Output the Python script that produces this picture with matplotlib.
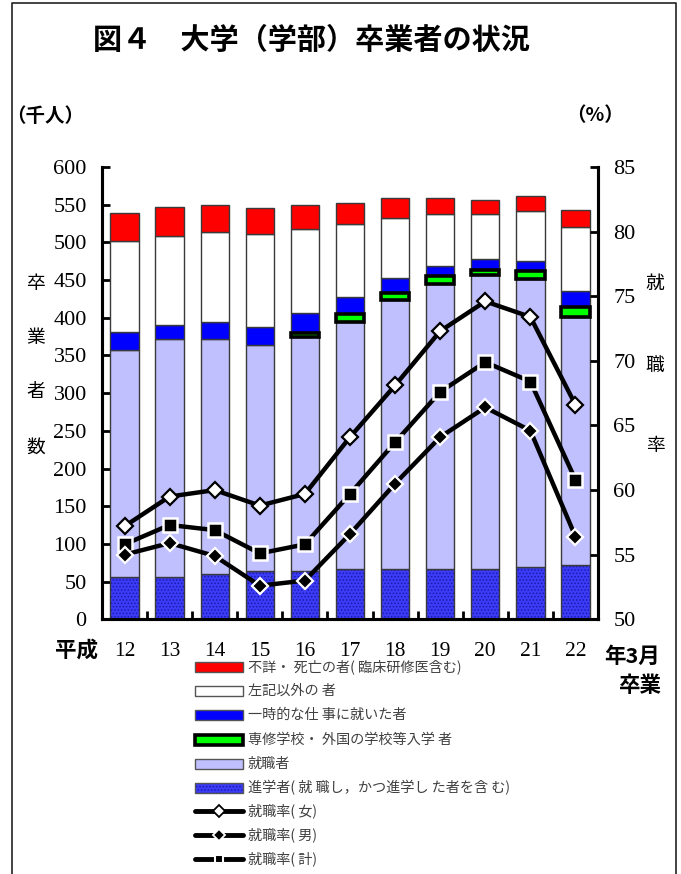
import matplotlib
matplotlib.use("Agg")
import matplotlib.pyplot as plt
import numpy as np
from matplotlib.patches import Rectangle
from matplotlib.lines import Line2D

# ---- data (thousand persons / percent) ----
years = ["12", "13", "14", "15", "16", "17", "18", "19", "20", "21", "22"]
advance = [56.5, 56.5, 59.5, 63.5, 63.5, 66.5, 66.5, 66.5, 66.5, 69.5, 72.5]
employed = [300.5, 315.5, 312.5, 300.5, 310.5, 327.5, 356.5, 378.5, 390.5, 381.5, 328.5]
vocational = [0, 0, 0, 0, 6, 11, 10, 10, 7, 11, 13]
temporary = [24.5, 19, 22.5, 24, 26, 23, 20, 14, 14, 13, 21]
other = [120.5, 117.5, 119.5, 123.5, 112, 96, 80, 68, 59, 67, 86]
unknown = [37, 38, 35, 34.5, 31, 28, 25.5, 21.5, 19, 20, 22]

rate_female = [57.2, 59.5, 60.0, 58.8, 59.7, 64.1, 68.1, 72.3, 74.6, 73.4, 66.6]
rate_total = [55.8, 57.3, 56.9, 55.1, 55.8, 59.7, 63.7, 67.6, 69.9, 68.4, 60.8]
rate_male = [55.0, 55.9, 54.9, 52.6, 53.0, 56.6, 60.5, 64.1, 66.4, 64.6, 56.4]

left_ticks = list(range(0, 601, 50))
right_ticks = list(range(50, 86, 5))

legend_labels = [
    "不詳・ 死亡の者( 臨床研修医含む)",
    "左記以外の 者",
    "一時的な仕 事に就いた者",
    "専修学校・ 外国の学校等入学 者",
    "就職者",
    "進学者( 就 職し，かつ進学し た者を含 む)",
    "就職率( 女)",
    "就職率( 男)",
    "就職率( 計)",
]

JP = ["Noto Sans CJK JP", "DejaVu Sans"]
plt.rcParams["font.family"] = ["Liberation Serif", "DejaVu Serif"]
plt.rcParams["hatch.linewidth"] = 0.7

W, H = 681, 874
fig = plt.figure(figsize=(W / 100, H / 100), dpi=100)


def px_rect(x0, y0, x1, y1):
    return [x0 / W, 1 - y1 / H, (x1 - x0) / W, (y1 - y0) / H]


ax = fig.add_axes(px_rect(102, 167, 598, 619.3))
n = len(years)
x = np.arange(n)
bw = 0.63
edge = "#3a3a3a"

adv = np.array(advance, float)
emp = np.array(employed, float)
voc = np.array(vocational, float)
tmp = np.array(temporary, float)
oth = np.array(other, float)
unk = np.array(unknown, float)

# stacked bars
ax.bar(x, adv, bw, color="#3c3cf6", edgecolor="#1a1ab0", linewidth=0, hatch=".....", zorder=2)
ax.bar(x, adv, bw, fill=False, edgecolor=edge, linewidth=1, zorder=2)
b = adv.copy()
ax.bar(x, emp, bw, bottom=b, color="#c0c0ff", edgecolor=edge, linewidth=1, zorder=2)
b += emp
b_voc = b.copy()
b += voc
ax.bar(x, tmp, bw, bottom=b, color="#0000ff", edgecolor=edge, linewidth=1, zorder=2)
b += tmp
ax.bar(x, oth, bw, bottom=b, color="white", edgecolor=edge, linewidth=1, zorder=2)
b += oth
ax.bar(x, unk, bw, bottom=b, color="#ff0000", edgecolor=edge, linewidth=1, zorder=2)
m = voc > 0
ax.bar(x[m], voc[m], bw, bottom=b_voc[m], color="#00ff00", edgecolor="black",
       linewidth=2.6, zorder=3)

ax.set_xlim(-0.5, n - 0.5)
ax.set_ylim(0, 600)
ax.set_yticks(left_ticks)
ax.set_yticklabels([str(t) for t in left_ticks])
ax.set_xticks(x)
ax.set_xticklabels(years)
ax.set_xticks(np.arange(0.5, n - 1, 1), minor=True)
ax.tick_params(axis="x", which="major", length=0, pad=16, labelsize=15.5)
ax.tick_params(axis="x", which="minor", direction="in", length=6, width=2)
ax.tick_params(axis="y", direction="in", length=6, width=2, pad=11, labelsize=16)
for s in ["left", "bottom", "right"]:
    ax.spines[s].set_linewidth(2.2)
ax.spines["top"].set_visible(False)

# employment rate lines
ax2 = ax.twinx()
ax2.set_ylim(50, 85)
ax2.set_yticks(right_ticks)
ax2.set_yticklabels([str(t) for t in right_ticks])
ax2.tick_params(axis="y", direction="in", length=6, width=2, pad=11, labelsize=16)
for s in ["left", "bottom", "right"]:
    ax2.spines[s].set_linewidth(2.2)
ax2.spines["top"].set_visible(False)

ax2.plot(x, rate_female, color="black", lw=3.2, marker="D", ms=8.5,
         mfc="white", mec="black", mew=1.6, zorder=4)
ax2.plot(x, rate_total, color="black", lw=3.2, marker="s", ms=10,
         mfc="black", mec="white", mew=1.8, zorder=4)
ax2.plot(x, rate_male, color="black", lw=3.2, marker="D", ms=8.5,
         mfc="black", mec="white", mew=1.6, zorder=4)

# overlay in pixel coordinates for frame, titles and legend
ov = fig.add_axes([0, 0, 1, 1], zorder=5)
ov.set_xlim(0, W)
ov.set_ylim(H, 0)
ov.axis("off")
ov.patch.set_visible(False)

ov.plot([12, 12, 676, 676], [H, 3, 3, H], color="#222222", lw=1.2)

ov.text(311, 40, "図４　大学（学部）卒業者の状況", family=JP, fontsize=21,
        fontweight="bold", ha="center", va="center")
ov.text(6, 116, "（千人）", family=JP, fontsize=14, fontweight="bold",
        ha="left", va="center")
ov.text(566, 116, "（%）", family=JP, fontsize=14, fontweight="bold",
        ha="left", va="center")

for ch, yy in zip("卒業者数", [283, 337, 392, 447]):
    ov.text(36, yy, ch, family=JP, fontsize=13.5, ha="center", va="center")
for ch, yy in zip("就職率", [283, 365, 445]):
    ov.text(655, yy, ch, family=JP, fontsize=13.5, ha="center", va="center")

ov.text(77, 650, "平成", family=JP, fontsize=15.5, fontweight="bold",
        ha="center", va="center")
ov.text(632, 656, "年3月", family=JP, fontsize=15.5, fontweight="bold",
        ha="center", va="center")
ov.text(640, 686, "卒業", family=JP, fontsize=15.5, fontweight="bold",
        ha="center", va="center")

# legend
rows = [667, 691, 715, 740, 764, 788, 811, 835, 859]
patch_styles = [
    dict(facecolor="#ff0000", edgecolor="#555555", lw=1),
    dict(facecolor="white", edgecolor="#555555", lw=1),
    dict(facecolor="#0000ff", edgecolor="#555555", lw=1),
    dict(facecolor="#00ff00", edgecolor="black", lw=2.6),
    dict(facecolor="#c0c0ff", edgecolor="#555555", lw=1),
    dict(facecolor="#3c3cf6", edgecolor="#1a1ab0", lw=0, hatch="....."),
]
for yy, st in zip(rows[:6], patch_styles):
    ov.add_patch(Rectangle((195, yy - 5), 48, 10, **st))
    if st.get("hatch"):
        ov.add_patch(Rectangle((195, yy - 5), 48, 10, fill=False,
                               edgecolor="#555555", lw=1))

line_styles = [
    dict(marker="D", ms=6, mfc="white", mec="black", mew=1.3),
    dict(marker="D", ms=6, mfc="black", mec="white", mew=1.3),
    dict(marker="s", ms=6, mfc="black", mec="white", mew=1.5),
]
for yy, st in zip(rows[6:], line_styles):
    ov.add_line(Line2D([195, 243], [yy, yy], color="black", lw=3.5,
                       solid_capstyle="round"))
    ov.add_line(Line2D([219], [yy], ls="none", **st))

for yy, lab in zip(rows, legend_labels):
    ov.text(248, yy, lab, family=JP, fontsize=10.2, color="#404040",
            ha="left", va="center")

fig.savefig("out.png", dpi=100)
